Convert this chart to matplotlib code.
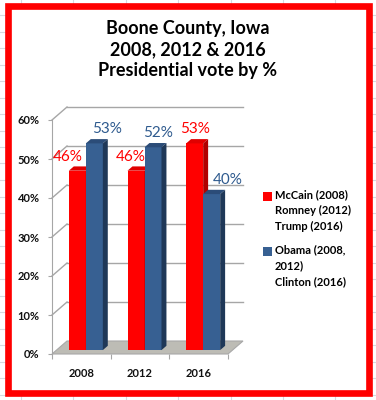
import matplotlib
matplotlib.use("Agg")
import matplotlib.pyplot as plt
from matplotlib.patches import Polygon, Rectangle
from matplotlib.lines import Line2D

# ---- data ----
years = ["2008", "2012", "2016"]
republican = [46, 46, 53]
democrat = [53, 52, 40]
legend_labels = ["McCain (2008)\nRomney (2012)\nTrump (2016)",
                 "Obama (2008,\n2012)\nClinton (2016)"]
yticks = [0, 10, 20, 30, 40, 50, 60]
title = "Boone County, Iowa\n2008, 2012 & 2016\nPresidential vote by %"

# ---- style ----
FONT = "Lato"
W, H = 376, 400
RED_F, RED_T, RED_S = "#ff0000", "#e00000", "#b00000"
BLU_F, BLU_T, BLU_S = "#376092", "#2b4c78", "#1f3858"
RED_LBL, BLU_LBL = "#ff0000", "#2e5a8e"
GRID = "#a6a6a6"

fig = plt.figure(figsize=(W / 100, H / 100), dpi=100)

# spreadsheet-like faint gridlines behind the chart frame
y = 15.0
while y < H:
    fig.add_artist(Line2D([0, 1], [1 - y / H] * 2, color="#d6dadf", lw=0.8, zorder=0))
    y += 16.5
x = 21.0
while x < W:
    fig.add_artist(Line2D([x / W] * 2, [0, 1], color="#d6dadf", lw=0.8, zorder=0))
    x += 52.4
fig.add_artist(Rectangle((7.5 / W, 1 - 393 / H), 361 / W, 387 / H, transform=fig.transFigure,
                         facecolor="white", edgecolor="#ff0000", lw=4.8, zorder=1))

# axes in pixel layout
x0p, x1p, y0p, y1p = 52, 228, 354, 120
ax = fig.add_axes([x0p / W, 1 - y0p / H, (x1p - x0p) / W, (y0p - y1p) / H])
ax.set_zorder(2)
ax.patch.set_alpha(0)
ncat = len(years)
ax.set_xlim(0, ncat)
ax.set_ylim(0, 60)

pxx = (x1p - x0p) / ncat      # px per category
pxy = (y0p - y1p) / 60.0      # px per percent
Dx, Dy = 15 / pxx, 13 / pxy   # depth vector in data units
f0, f1 = 0.30, 0.63           # bar depth fractions
w = 17 / pxx                  # bar width

# side wall diagonals and back wall gridlines
for v in yticks[1:]:
    ax.plot([0, Dx], [v, v + Dy], color=GRID, lw=1, clip_on=False, zorder=1)
    ax.plot([Dx, ncat + Dx], [v + Dy, v + Dy], color=GRID, lw=1, clip_on=False, zorder=1)

# floor
ax.add_patch(Polygon([(0, 0), (ncat, 0), (ncat + Dx, Dy), (Dx, Dy)], closed=True,
                     facecolor="#bdbcb5", edgecolor="#a8a8a8", lw=0.8, clip_on=False, zorder=2))

def bar3d(xl, val, cf, ct, cs):
    ax0, ay0 = xl + f0 * Dx, f0 * Dy
    ax1, ay1 = xl + f1 * Dx, f1 * Dy
    ax.add_patch(Polygon([(ax0, ay0), (ax0 + w, ay0), (ax0 + w, val + ay0), (ax0, val + ay0)],
                         closed=True, facecolor=cf, edgecolor="none", clip_on=False, zorder=3))
    ax.add_patch(Polygon([(ax0, val + ay0), (ax0 + w, val + ay0), (ax1 + w, val + ay1), (ax1, val + ay1)],
                         closed=True, facecolor=ct, edgecolor="none", clip_on=False, zorder=3))
    ax.add_patch(Polygon([(ax0 + w, ay0), (ax1 + w, ay1), (ax1 + w, val + ay1), (ax0 + w, val + ay0)],
                         closed=True, facecolor=cs, edgecolor="none", clip_on=False, zorder=3))
    return ax0 + w / 2, val + ay0

# label offsets in pixels (layout, Excel-placed labels)
red_dx = [-10, -5, 0]
blu_dx = [13, 5, 16]
for i in range(ncat):
    cx, top = bar3d(i + 0.5 - w, republican[i], RED_F, RED_T, RED_S)
    ax.annotate(f"{republican[i]}%", (cx, top), xytext=(red_dx[i], 14), textcoords="offset pixels",
                ha="center", va="center", color=RED_LBL, fontsize=11, family=FONT,
                annotation_clip=False, zorder=5)
    cx, top = bar3d(i + 0.5, democrat[i], BLU_F, BLU_T, BLU_S)
    ax.annotate(f"{democrat[i]}%", (cx, top), xytext=(blu_dx[i], 14), textcoords="offset pixels",
                ha="center", va="center", color=BLU_LBL, fontsize=11, family=FONT,
                annotation_clip=False, zorder=5)

# axes styling
for s in ["top", "right", "bottom"]:
    ax.spines[s].set_visible(False)
ax.spines["left"].set_color(GRID)
ax.set_yticks(yticks, [f"{t}%" for t in yticks])
ax.tick_params(axis="y", length=3, color=GRID, pad=6, labelsize=8, labelcolor="#111111")
ax.set_xticks(range(ncat + 1), [""] * (ncat + 1))
ax.tick_params(axis="x", which="major", length=3.5, color=GRID)
ax.set_xticks([i + 0.5 for i in range(ncat)], years, minor=True)
ax.tick_params(axis="x", which="minor", length=0, pad=10, labelsize=8, labelcolor="#111111")
for lab in ax.get_yticklabels() + ax.get_xticklabels(minor=True):
    lab.set_fontfamily(FONT)
    lab.set_fontweight("bold")

# title
fig.text(0.5, 1 - 49.5 / H, title, ha="center", va="center", fontsize=13, fontweight="bold",
         family=FONT, linespacing=1.3, zorder=5)

# legend (manual)
leg_colors = [RED_F, BLU_F]
leg_y = [196, 251]
for lbl, col, yy in zip(legend_labels, leg_colors, leg_y):
    fig.add_artist(Rectangle((263 / W, 1 - (yy + 4.5) / H), 9 / W, 9 / H, transform=fig.transFigure,
                             facecolor=col, edgecolor="none", zorder=5))
    fig.text(275 / W, 1 - (yy - 6.5) / H, lbl, ha="left", va="top", fontsize=8, fontweight="bold",
             family=FONT, linespacing=1.55, zorder=5)

fig.savefig("out.png", dpi=100)
